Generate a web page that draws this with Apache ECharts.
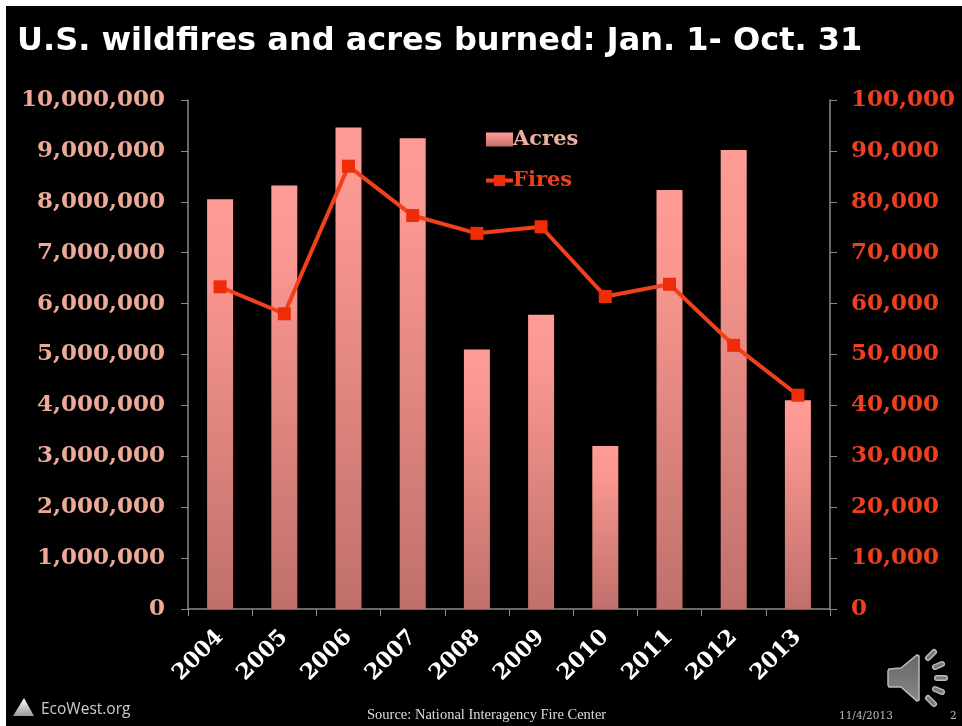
<!DOCTYPE html>
<html>
<head>
<meta charset="utf-8">
<style>
  html, body { margin: 0; padding: 0; background: #fff; }
  #chart { width: 962px; height: 726px; }
</style>
<script src="https://cdn.jsdelivr.net/npm/echarts@6/dist/echarts.min.js"></script>
</head>
<body>
<div id="chart"></div>
<script>
const years = ['2004', '2005', '2006', '2007', '2008', '2009', '2010', '2011', '2012', '2013'];
const acres = [8050000, 8320000, 9460000, 9250000, 5100000, 5780000, 3200000, 8230000, 9020000, 4100000];
const fires = [63300, 58000, 87000, 77300, 73800, 75100, 61400, 63800, 51800, 42000];

const serif = '"DejaVu Serif", serif';
const axisLine = { show: true, lineStyle: { color: '#8a8a8a', width: 1.5 } };
const fmt = v => v.toLocaleString('en-US');

// speaker icon sound waves, drawn as outlined pills
const pill = (x1, y1, x2, y2) => [
  { type: 'line', shape: { x1, y1, x2, y2 }, style: { stroke: '#bbb', lineWidth: 6, lineCap: 'round' } },
  { type: 'line', shape: { x1, y1, x2, y2 }, style: { stroke: '#777', lineWidth: 3, lineCap: 'round' } }
];

const chart = echarts.init(document.getElementById('chart'));
chart.setOption({
  backgroundColor: '#fff',
  animation: false,
  grid: { left: 188, right: 132, top: 100, bottom: 117 },
  legend: {
    left: 479, top: 124, orient: 'vertical', itemGap: 20, itemWidth: 27, itemHeight: 14,
    lineStyle: { width: 4 },
    textStyle: { fontFamily: serif, fontWeight: 'bold', fontSize: 21, padding: [0, 0, 0, -5] },
    data: [
      { name: 'Acres', icon: 'rect', textStyle: { color: '#EDB0A0' } },
      { name: 'Fires', textStyle: { color: '#EE4020' } }
    ]
  },
  xAxis: {
    type: 'category', data: years,
    axisLine: axisLine,
    axisTick: { show: true, length: 7, lineStyle: { color: '#8a8a8a' } },
    axisLabel: {
      rotate: 45, interval: 0, margin: 25, color: '#fff',
      fontFamily: serif, fontWeight: 'bold', fontSize: 22
    }
  },
  yAxis: [
    {
      type: 'value', min: 0, max: 10000000, interval: 1000000,
      axisLine: axisLine,
      axisTick: { show: true, length: 7, lineStyle: { color: '#8a8a8a' } },
      splitLine: { show: false },
      axisLabel: {
        margin: 23, color: '#EDAA98', fontFamily: serif, fontWeight: 'bold', fontSize: 23,
        padding: [4, 0, 0, 0], formatter: fmt
      }
    },
    {
      type: 'value', min: 0, max: 100000, interval: 10000, position: 'right',
      axisLine: axisLine,
      axisTick: { show: true, length: 7, lineStyle: { color: '#8a8a8a' } },
      splitLine: { show: false },
      axisLabel: {
        margin: 21, color: '#EE4020', fontFamily: serif, fontWeight: 'bold', fontSize: 23,
        padding: [4, 0, 0, 0], formatter: fmt
      }
    }
  ],
  series: [
    {
      name: 'Acres', type: 'bar', data: acres, barWidth: 26,
      itemStyle: {
        color: new echarts.graphic.LinearGradient(0, 0, 0, 1, [
          { offset: 0, color: '#FF9C96' },
          { offset: 0.2, color: '#F8968F' },
          { offset: 1, color: '#C0706C' }
        ])
      }
    },
    {
      name: 'Fires', type: 'line', yAxisIndex: 1, data: fires,
      symbol: 'rect', symbolSize: 13,
      lineStyle: { color: '#F0401C', width: 4 },
      itemStyle: { color: '#EE2C08' }
    }
  ],
  graphic: [
    // slide background sits behind the plot
    { type: 'rect', z: -10, silent: true, shape: { x: 6, y: 6, width: 956, height: 720 }, style: { fill: '#000' } },
    { type: 'text', left: 17, top: 26, style: { text: 'U.S. wildfires and acres burned: Jan. 1- Oct. 31', fill: '#fff', font: 'bold 32px "DejaVu Sans"' } },
    { type: 'text', left: 367, top: 708, style: { text: 'Source: National Interagency Fire Center', fill: '#ddd', font: '14.5px "Liberation Serif"' } },
    { type: 'text', left: 839, top: 711, style: { text: '11/4/2013', fill: '#bbb', font: '10.5px "DejaVu Serif"' } },
    { type: 'text', left: 950, top: 711, style: { text: '2', fill: '#bbb', font: '10.5px "DejaVu Serif"' } },
    { type: 'text', left: 41, top: 702, style: { text: 'EcoWest.org', fill: '#ccc', font: '15.5px "Open Sans"' } },
    // logo mountain
    {
      type: 'polygon', shape: { points: [[13, 716], [24, 698], [34, 716]] },
      style: { fill: new echarts.graphic.LinearGradient(0, 0, 0, 1, [{ offset: 0, color: '#fff' }, { offset: 1, color: '#999' }]) }
    },
    // speaker icon
    {
      type: 'polygon',
      shape: { points: [[889, 669], [901, 668], [917, 655], [919, 656], [919, 700], [917, 701], [901, 687], [889, 687], [888, 685], [888, 671]] },
      style: { fill: new echarts.graphic.LinearGradient(0, 0, 0, 1, [{ offset: 0, color: '#666' }, { offset: 1, color: '#888' }]), stroke: '#bbb', lineWidth: 1.5 }
    },
    ...pill(928, 658, 934, 652),
    ...pill(935, 667, 942, 664),
    ...pill(937, 678, 945, 678),
    ...pill(935, 689, 942, 692),
    ...pill(928, 698, 934, 704)
  ]
});
</script>
</body>
</html>
